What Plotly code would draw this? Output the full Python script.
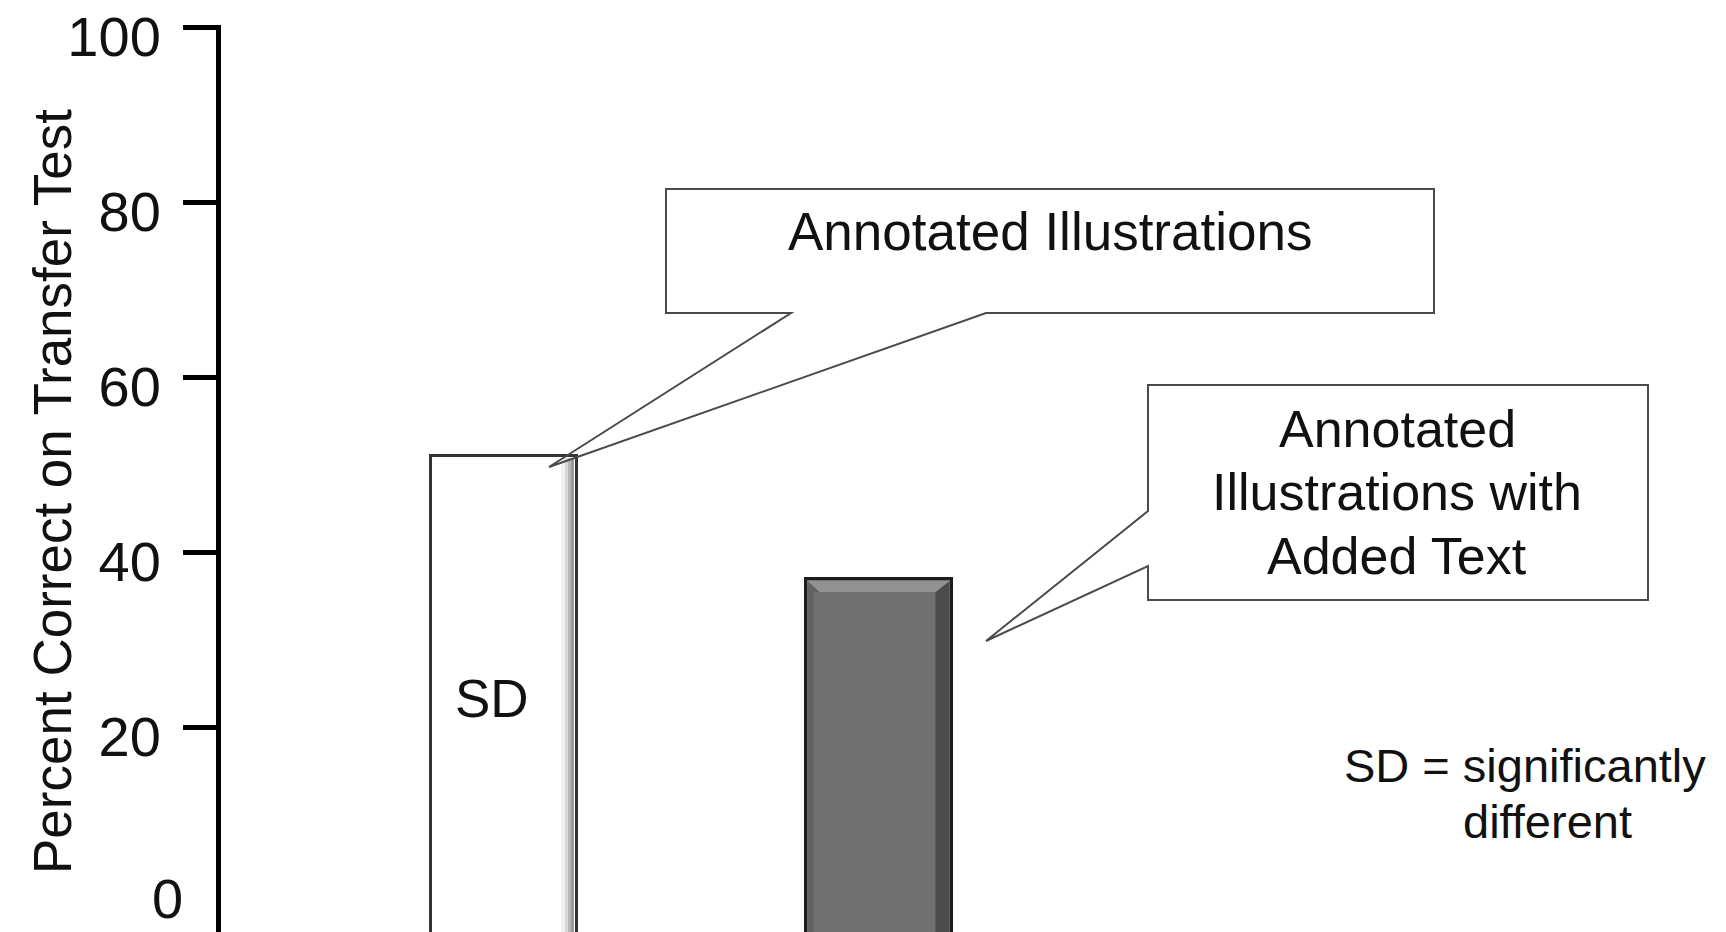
import plotly.graph_objects as go

# ---------------- data ----------------
categories = ["Annotated Illustrations", "Annotated Illustrations with Added Text"]
x_pos = [1, 2]
values = [51, 37]
sig_labels = ["SD", ""]
tick_values = [20, 40, 60, 80, 100]
tick_labels = ["20", "40", "60", "80", "100"]
zero_label = "0"
y_title = "Percent Correct on Transfer Test"
callout_1 = ["Annotated Illustrations"]
callout_2 = ["Annotated", "Illustrations with", "Added Text"]
note_lines = ["SD = significantly", "different"]

# ---------------- layout geometry (pixels) ----------------
W, H = 1726, 932
L, R, T, B = 221, 0, 25, 0
PX_X = 374.5          # pixels per x unit
X1_PX = 504           # pixel of x = 1
PX_Y = 8.76           # pixels per y unit
Y0_PX = 903           # pixel of y = 0
BAR_W = 146 / PX_X
BAR_BASE = -6

xr = [1 - (X1_PX - L) / PX_X, 1 + (W - R - X1_PX) / PX_X]
yr = [-(H - B - Y0_PX) / PX_Y, (Y0_PX - T) / PX_Y]

FONT = "Liberation Sans, Arial, Helvetica, sans-serif"
TXT = "#111111"


def pp(xp, yp):
    """pixel -> paper coordinates"""
    return (xp - L) / (W - L - R), (H - B - yp) / (H - T - B)


def path_px(points):
    pts = [pp(x, y) for x, y in points]
    return "M " + " L ".join(f"{x:.5f},{y:.5f}" for x, y in pts) + " Z"


fig = go.Figure()

fig.add_trace(go.Bar(
    x=x_pos,
    y=[v - BAR_BASE for v in values],
    base=[BAR_BASE] * len(values),
    width=[BAR_W] * len(values),
    marker=dict(color=["#ffffff", "#717171"],
                line=dict(color=["#333333", "#1c1c1c"], width=3)),
    hovertext=categories,
    showlegend=False,
))

shapes = []
dx = 1 / PX_X
dy = 1 / PX_Y

# bevel on the white bar: soft grey strip on the right
xc, v = x_pos[0], values[0]
right = xc + BAR_W / 2
for (a, b, col) in [(16, 12, "#f0f0f0"), (12, 9, "#d8d8d8"), (9, 6, "#b8b8b8"), (6, 3, "#9a9a9a")]:
    shapes.append(dict(type="rect", xref="x", yref="y", layer="above",
                       x0=right - a * dx, x1=right - b * dx,
                       y0=yr[0], y1=v - 2 * dy,
                       fillcolor=col, line=dict(width=0)))

# bevel on the grey bar
xc, v = x_pos[1], values[1]
left, right = xc - BAR_W / 2, xc + BAR_W / 2
shapes.append(dict(type="path", xref="x", yref="y", layer="above",
                   path=(f"M {right - 2*dx},{v - 2*dy} L {right - 16*dx},{v - 13*dy} "
                         f"L {right - 16*dx},{yr[0]} L {right - 2*dx},{yr[0]} Z"),
                   fillcolor="#4c4c4c", line=dict(width=0)))
shapes.append(dict(type="path", xref="x", yref="y", layer="above",
                   path=(f"M {left + 2*dx},{v - 2*dy} L {right - 2*dx},{v - 2*dy} "
                         f"L {right - 16*dx},{v - 13*dy} L {left + 14*dx},{v - 13*dy} Z"),
                   fillcolor="#929292", line=dict(width=0)))
shapes.append(dict(type="path", xref="x", yref="y", layer="above",
                   path=(f"M {left + 2*dx},{v - 2*dy} L {left + 14*dx},{v - 13*dy} "
                         f"L {left + 8*dx},{v - 13*dy} L {left + 8*dx},{yr[0]} L {left + 2*dx},{yr[0]} Z"),
                   fillcolor="#626262", line=dict(width=0)))

# callout balloons
shapes.append(dict(type="path", xref="paper", yref="paper", layer="above",
                   path=path_px([(666, 189), (1434, 189), (1434, 313), (986, 313),
                                 (549, 467), (791, 313), (666, 313)]),
                   fillcolor="rgba(255,255,255,0)", line=dict(color="#4a4a4a", width=2)))
shapes.append(dict(type="path", xref="paper", yref="paper", layer="above",
                   path=path_px([(1148, 385), (1648, 385), (1648, 600), (1148, 600),
                                 (1148, 566), (986, 641), (1148, 511)]),
                   fillcolor="#ffffff", line=dict(color="#4a4a4a", width=2)))

annotations = []


def add_text(text, xp, yp, size, xanchor="center", angle=0):
    x, y = pp(xp, yp)
    annotations.append(dict(text=text, x=x, y=y, xref="paper", yref="paper",
                            xanchor=xanchor, yanchor="middle", showarrow=False,
                            textangle=angle, font=dict(family=FONT, size=size, color=TXT)))


# significance marker inside the first bar
for xv, lab in zip(x_pos, sig_labels):
    if lab:
        annotations.append(dict(text=lab, x=xv - 12 * dx, y=23.4, xref="x", yref="y",
                                showarrow=False, font=dict(family=FONT, size=53, color=TXT)))

add_text(callout_1[0], 1050, 232, 53)
for i, line in enumerate(callout_2):
    add_text(line, 1397, 429 + i * 63.5, 52)
add_text(note_lines[0], 1342, 765, 47, xanchor="left")
add_text(note_lines[1], 1461, 821, 47, xanchor="left")
add_text(y_title, 52, 492, 53, angle=-90)

# "0" label (no tick mark at zero in the original), kept inside the page
annotations.append(dict(text=zero_label, x=pp(185, 0)[0], y=pp(0, 932)[1],
                        xref="paper", yref="paper",
                        xanchor="right", yanchor="bottom", showarrow=False,
                        font=dict(family=FONT, size=56, color=TXT)))

fig.update_layout(
    width=W, height=H,
    margin=dict(l=L, r=R, t=T, b=B, pad=0, autoexpand=False),
    paper_bgcolor="white", plot_bgcolor="white",
    xaxis=dict(range=xr, visible=False, fixedrange=True, automargin=False),
    yaxis=dict(range=yr, showline=True, linecolor="black", linewidth=5,
               ticks="outside", ticklen=33, tickwidth=5, tickcolor="black",
               tickvals=tick_values, ticktext=tick_labels,
               tickfont=dict(family=FONT, size=56, color=TXT),
               ticklabelshift=9, ticklabelstandoff=11, ticklabeloverflow="allow",
               automargin=False,
               showgrid=False, zeroline=False, fixedrange=True),
    shapes=shapes,
    annotations=annotations,
    bargap=0,
)

fig.write_html("out.html", config={"displayModeBar": False},
               post_script="document.body.style.margin='0';")
